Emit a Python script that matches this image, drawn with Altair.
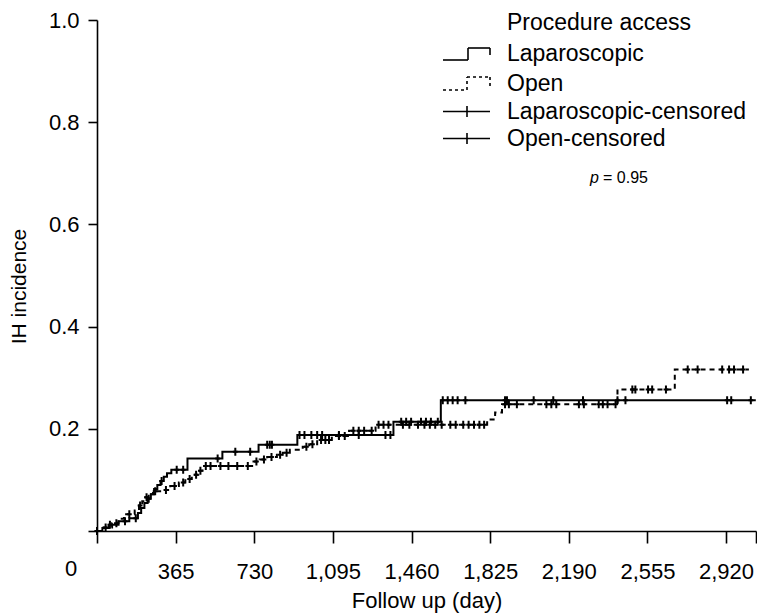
import altair as alt
import pandas as pd

# ---------------- data ----------------
X_MAX = 3059
x_ticks = [0, 365, 730, 1095, 1460, 1825, 2190, 2555, 2920, X_MAX]
y_ticks = [0, 0.2, 0.4, 0.6, 0.8, 1.0]

lap_days = [0, 25, 55, 100, 150, 190, 205, 220, 235, 250, 265, 280, 295, 310,
            325, 345, 420, 582, 750, 930, 1376, 1596]
lap_inc = [0, 0.006, 0.012, 0.019, 0.025, 0.035, 0.045, 0.055, 0.063, 0.072,
           0.082, 0.09, 0.098, 0.106, 0.113, 0.12, 0.142, 0.155, 0.169, 0.188,
           0.214, 0.256]
lap_end = 3058
lap_cens = [0, 60, 130, 180, 240, 300, 370, 400, 560, 642, 711, 790, 802, 812,
            940, 963, 995, 1022, 1045, 1123, 1215, 1339, 1362, 1412, 1435, 1458,
            1504, 1527, 1550, 1582, 1605, 1628, 1651, 1674, 1710, 1894, 1903,
            2027, 2118, 2256, 2416, 2453, 2925, 2944, 3035]

open_days = [0, 30, 70, 100, 125, 175, 195, 210, 225, 240, 260, 300, 340, 380,
             410, 440, 470, 490, 720, 755, 790, 835, 862, 895, 955, 985, 1022,
             1090, 1170, 1293, 1811, 1848, 1880, 2416, 2682]
open_inc = [0, 0.007, 0.015, 0.024, 0.033, 0.04, 0.05, 0.058, 0.066, 0.072,
            0.078, 0.08, 0.088, 0.095, 0.102, 0.11, 0.118, 0.127, 0.136, 0.14,
            0.145, 0.149, 0.153, 0.159, 0.165, 0.17, 0.178, 0.186, 0.196, 0.208,
            0.218, 0.232, 0.248, 0.277, 0.316]
open_end = 3026
open_cens = [0, 40, 90, 150, 200, 230, 270, 320, 360, 400, 430, 460, 480, 505,
             527, 573, 610, 651, 700, 740, 775, 810, 850, 880, 972, 1000, 1040,
             1060, 1077, 1123, 1150, 1190, 1215, 1240, 1275, 1307, 1330, 1353,
             1420, 1450, 1490, 1520, 1545, 1570, 1600, 1640, 1665, 1700, 1725,
             1750, 1775, 1797, 1894, 1912, 1949, 2086, 2109, 2132, 2237, 2260,
             2329, 2348, 2370, 2407, 2485, 2499, 2558, 2577, 2641, 2742, 2788,
             2902, 2934, 2957, 2999]

legend_title = "Procedure access"
legend_labels = ["Laparoscopic", "Open", "Laparoscopic-censored", "Open-censored"]
p_text = "= 0.95"


# ---------------- tables ----------------
def step_at(days, inc, t):
    v = 0
    for d, i in zip(days, inc):
        if d <= t:
            v = i
    return v


lap_df = pd.DataFrame({"day": lap_days + [lap_end], "inc": lap_inc + [lap_inc[-1]]})
open_df = pd.DataFrame({"day": open_days + [open_end], "inc": open_inc + [open_inc[-1]]})
lap_c = pd.DataFrame({"day": lap_cens, "inc": [step_at(lap_days, lap_inc, t) for t in lap_cens]})
open_c = pd.DataFrame({"day": open_cens, "inc": [step_at(open_days, open_inc, t) for t in open_cens]})

FONT = "Liberation Sans"
W, H = 659, 511
FS = 22
LFS = 23
TICK = 12
LPAD = 18

x_enc = alt.X(
    "day:Q",
    scale=alt.Scale(domain=[0, X_MAX], nice=False, zero=False),
    axis=alt.Axis(
        values=x_ticks,
        labelExpr="datum.value == 0 || datum.value > 3000 ? '' : format(datum.value, ',')",
        title="Follow up (day)",
        tickSize=TICK,
        labelPadding=LPAD,
        titleY=69,
        titleBaseline="middle",
    ),
)
y_enc = alt.Y(
    "inc:Q",
    scale=alt.Scale(domain=[0, 1], nice=False),
    axis=alt.Axis(
        values=y_ticks,
        labelExpr="datum.value == 0 ? '' : format(datum.value, '.1f')",
        title="IH incidence",
        tickSize=9,
        labelPadding=9,
        titleAngle=270,
        titleX=-78,
        titleY=266,
        titleAlign="center",
        titleBaseline="middle",
        titleFontSize=21,
    ),
)

CENS = "M0,-1V1M-0.6,0H0.6"

lap_line = alt.Chart(lap_df).mark_line(
    interpolate="step-after", color="black", strokeWidth=2
).encode(x=x_enc, y=y_enc)
open_line = alt.Chart(open_df).mark_line(
    interpolate="step-after", color="black", strokeWidth=2, strokeDash=[5, 4]
).encode(x=x_enc, y=y_enc)
lap_pts = alt.Chart(lap_c).mark_point(
    shape=CENS, size=64, color="black", strokeWidth=2, filled=False, opacity=1
).encode(x=x_enc, y=y_enc)
open_pts = alt.Chart(open_c).mark_point(
    shape=CENS, size=64, color="black", strokeWidth=2, filled=False, opacity=1
).encode(x=x_enc, y=y_enc)

one = alt.Data(values=[{"k": 1}])


def seg(x1, y1, x2, y2, dash=None):
    kw = {"color": "black", "strokeWidth": 1.6}
    if dash:
        kw["strokeDash"] = dash
    return alt.Chart(one).mark_rule(**kw).encode(
        x=alt.value(x1), x2=alt.value(x2), y=alt.value(y1), y2=alt.value(y2)
    )


def txt(s, x, y, size=LFS, style="normal", align="left"):
    return alt.Chart(one).mark_text(
        text=s, align=align, baseline="middle", fontSize=size, font=FONT,
        fontStyle=style, color="black"
    ).encode(x=alt.value(x), y=alt.value(y))


legend = [
    txt(legend_title, 410, 3),
    # Laparoscopic step symbol
    seg(346, 40, 371, 40), seg(371, 40, 371, 28), seg(371, 28, 393, 28), seg(393, 28, 393, 35),
    txt(legend_labels[0], 410, 34),
    # Open step symbol (dotted)
    seg(346, 70, 370, 70, [3, 3]), seg(370, 70, 370, 57, [3, 3]),
    seg(370, 57, 393, 57, [3, 3]), seg(393, 57, 393, 67, [3, 3]),
    txt(legend_labels[1], 410, 64),
    # censored symbols
    seg(346, 91.5, 393, 91.5), seg(370, 86, 370, 97),
    txt(legend_labels[2], 410, 91.5),
    seg(346, 118.5, 393, 118.5), seg(370, 113, 370, 124),
    txt(legend_labels[3], 410, 119),
    # p value
    txt("p", 493, 158, size=16, style="italic"),
    txt(p_text, 506, 158, size=16),
    # shared origin label
    txt("0", -26, H + TICK + LPAD + 8, size=FS, align="center"),
]

chart = alt.layer(open_line, lap_line, open_pts, lap_pts, *legend).properties(
    width=W,
    height=H,
    padding={"left": 89, "top": 12, "right": 1, "bottom": 85},
    autosize=alt.AutoSizeParams(type="none"),
).configure_view(stroke=None).configure_axis(
    grid=False,
    domainColor="black",
    domainWidth=1.6,
    tickColor="black",
    tickWidth=1.6,
    labelColor="black",
    labelFont=FONT,
    labelFontSize=FS,
    titleColor="black",
    titleFont=FONT,
    titleFontSize=FS,
    titleFontWeight="normal",
)

chart.save("out.html", embed_options={"renderer": "svg", "actions": False})
